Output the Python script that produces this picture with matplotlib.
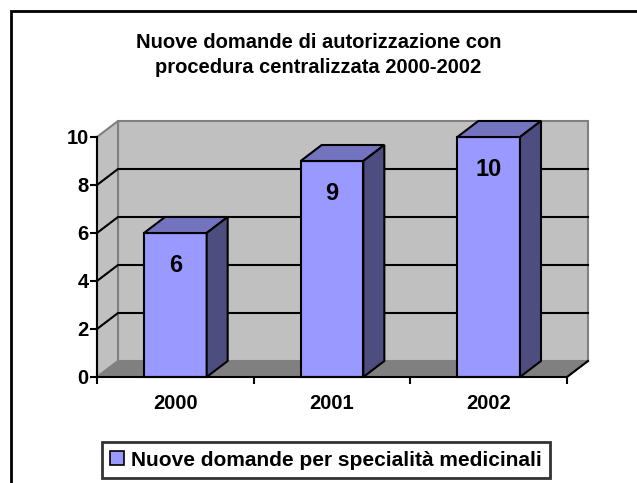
import matplotlib
matplotlib.use("Agg")
import matplotlib.pyplot as plt
from matplotlib.patches import Polygon, Rectangle, Patch
from matplotlib.lines import Line2D

plt.rcParams['font.family'] = ['Liberation Sans', 'DejaVu Sans']

# ---- data ----
categories = ['2000', '2001', '2002']
values = [6, 9, 10]
series_name = 'Nuove domande per specialità medicinali'
title = 'Nuove domande di autorizzazione con\nprocedura centralizzata 2000-2002'
yticks = [0, 2, 4, 6, 8, 10]

# ---- styles ----
W, H = 637, 483
front_c = '#9999FF'
top_c = '#7373BF'
side_c = '#4D4D80'
wall_c = '#C0C0C0'
floor_c = '#808080'
edge_gray = '#808080'

fig = plt.figure(figsize=(W / 100, H / 100), dpi=100)
ax = fig.add_axes([97 / W, 1 - 377 / H, (567 - 97) / W, (377 - 137) / H])
ax.set_xlim(0, len(categories))
ax.set_ylim(0, 10)
ax.patch.set_visible(False)

DX = 21 / 156.7   # depth offset in category units
DY = 16 / 24.0    # depth offset in value units
n = len(categories)
ymax = 10

# back wall
ax.add_patch(Polygon([(DX, DY), (n + DX, DY), (n + DX, ymax + DY), (DX, ymax + DY)],
                     closed=True, facecolor=wall_c, edgecolor=edge_gray, lw=1.5,
                     clip_on=False, zorder=0.5))
# side wall
ax.add_patch(Polygon([(0, 0), (DX, DY), (DX, ymax + DY), (0, ymax)],
                     closed=True, facecolor=wall_c, edgecolor=edge_gray, lw=1.5,
                     clip_on=False, zorder=0.6))
# floor
ax.add_patch(Polygon([(0, 0), (n, 0), (n + DX, DY), (DX, DY)],
                     closed=True, facecolor=floor_c, edgecolor=edge_gray, lw=1.0,
                     clip_on=False, zorder=0.7))
ax.add_line(Line2D([n, n + DX], [0, DY], color='black', lw=1.5, clip_on=False, zorder=0.8))

# gridlines on walls
for k in yticks[1:-1]:
    ax.add_line(Line2D([0, DX, n + DX], [k, k + DY, k + DY], color='black', lw=1.5,
                       clip_on=False, zorder=0.9))

# bars
bw = 0.4
for i, v in enumerate(values):
    x0 = i + 0.5 - bw / 2
    x1 = x0 + bw
    ax.add_patch(Polygon([(x0, 0), (x1, 0), (x1, v), (x0, v)], closed=True,
                         facecolor=front_c, edgecolor='black', lw=1.5, zorder=3, clip_on=False))
    ax.add_patch(Polygon([(x0, v), (x1, v), (x1 + DX, v + DY), (x0 + DX, v + DY)], closed=True,
                         facecolor=top_c, edgecolor='black', lw=1.5, zorder=3, clip_on=False))
    ax.add_patch(Polygon([(x1, 0), (x1 + DX, DY), (x1 + DX, v + DY), (x1, v)], closed=True,
                         facecolor=side_c, edgecolor='black', lw=1.5, zorder=3, clip_on=False))
    ax.annotate(str(v), (i + 0.5, v), xytext=(0, -33), textcoords='offset pixels',
                ha='center', va='center', fontsize=17, fontweight='bold', zorder=5)

# axes
for s in ['top', 'right']:
    ax.spines[s].set_visible(False)
for s in ['left', 'bottom']:
    ax.spines[s].set_color('black')
    ax.spines[s].set_linewidth(1.5)
    ax.spines[s].set_zorder(4)
ax.set_yticks(yticks)
ax.set_yticklabels([str(t) for t in yticks], fontsize=14.5, fontweight='bold')
ax.set_xticks(range(n + 1))
ax.set_xticklabels([])
ax.set_xticks([i + 0.5 for i in range(n)], minor=True)
ax.set_xticklabels(categories, minor=True, fontsize=14.5, fontweight='bold')
ax.tick_params(axis='x', which='major', length=5, width=1.5, direction='out')
ax.tick_params(axis='x', which='minor', length=0, pad=12)
ax.tick_params(axis='y', length=5, width=1.5, direction='out', pad=1)

# title
fig.text(0.5, 1 - 55 / H, title, ha='center', va='center', fontsize=14.5,
         fontweight='bold', linespacing=1.35)

# legend
handle = Patch(facecolor=front_c, edgecolor='black', lw=1.2)
leg = fig.legend([handle], [series_name], loc='center',
                 bbox_to_anchor=(326 / W, 1 - 460 / H),
                 prop={'weight': 'bold', 'size': 15},
                 fancybox=False, frameon=True, edgecolor='black',
                 handlelength=0.65, handleheight=0.65, handletextpad=0.35,
                 borderpad=0.4, borderaxespad=0)
leg.get_frame().set_linewidth(2)

# outer frame
fig.add_artist(Rectangle((11 / W, -0.1), 1.2, (1 - 11 / H) + 0.1, transform=fig.transFigure,
                         fill=False, edgecolor='black', lw=2))

fig.savefig('out.png', dpi=100)
